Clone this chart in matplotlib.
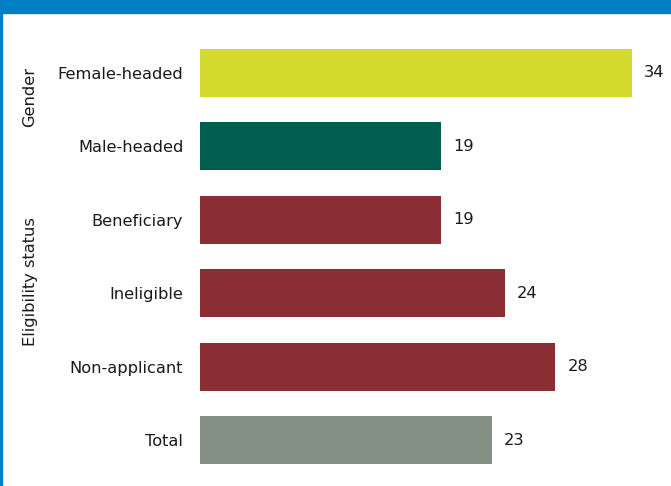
import matplotlib.pyplot as plt
from matplotlib.patches import Rectangle

# data
categories = ["Female-headed", "Male-headed", "Beneficiary", "Ineligible", "Non-applicant", "Total"]
values = [34, 19, 19, 24, 28, 23]
bar_colors = ["#D5DA2E", "#005E4E", "#8A2E33", "#8A2E33", "#8A2E33", "#849084"]
groups = [("Gender", 97), ("Eligibility status", 282)]  # label, vertical centre in px

W, H = 671, 486
BLUE = "#0080C3"
TEXT = "#1A1A1A"
FS = 11.7

fig = plt.figure(figsize=(W / 100, H / 100), dpi=100)
ax = fig.add_axes([200 / W, 1 - 477 / H, 471 / W, (477 - 36) / H])

ypos = list(range(len(categories)))
ax.barh(ypos, values, height=0.655, color=bar_colors)
ax.set_ylim(len(categories) - 0.5, -0.5)
ax.set_xlim(0, 37.1)

for y, v in zip(ypos, values):
    ax.annotate(f"{v}", (v, y), xytext=(8.5, 0), textcoords="offset points",
                va="center", ha="left", fontsize=FS, color=TEXT)

ax.set_yticks(ypos)
ax.set_yticklabels(categories, fontsize=FS, color=TEXT)
ax.tick_params(axis="y", length=0, pad=12)
ax.set_xticks([])
for s in ax.spines.values():
    s.set_visible(False)

for label, ypx in groups:
    fig.text(30 / W, 1 - ypx / H, label, rotation=90, ha="center", va="center",
             fontsize=FS, color=TEXT)

# frame: blue band on top, thin line on the left
fig.patches.append(Rectangle((0, 1 - 13 / H), 1, 13 / H, transform=fig.transFigure,
                             color=BLUE, zorder=5))
fig.patches.append(Rectangle((0, 0), 2 / W, 1, transform=fig.transFigure,
                             color=BLUE, zorder=5))

fig.savefig("out.png", dpi=100)
